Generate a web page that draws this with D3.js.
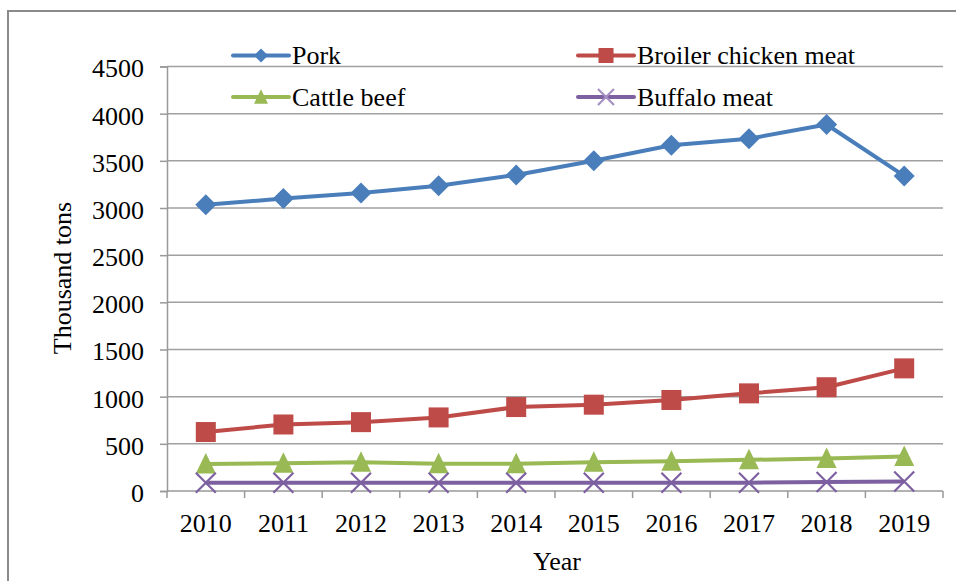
<!DOCTYPE html>
<html>
<head>
<meta charset="utf-8">
<script src="https://cdn.jsdelivr.net/npm/d3@7/dist/d3.min.js"></script>
<style>
  html, body { margin: 0; padding: 0; background: #fff; }
  svg { display: block; }
  text { font-family: "Liberation Serif", "Times New Roman", serif; fill: #000; }
</style>
</head>
<body>
<svg id="chart" width="956" height="581"></svg>
<script>
// Meat production by type, thousand tons
const years = ["2010", "2011", "2012", "2013", "2014", "2015", "2016", "2017", "2018", "2019"];
const pork = [3035, 3100, 3160, 3235, 3350, 3500, 3665, 3735, 3885, 3340];
const broiler = [625, 705, 730, 780, 890, 915, 965, 1035, 1100, 1300];
const cattle = [285, 295, 305, 290, 290, 305, 315, 330, 345, 365];
const buffalo = [88, 88, 88, 88, 88, 88, 88, 88, 95, 100];
const yTicks = [0, 500, 1000, 1500, 2000, 2500, 3000, 3500, 4000, 4500];

const series = [
  { name: "Pork", values: pork, color: "#4A7EBB", marker: "diamond" },
  { name: "Broiler chicken meat", values: broiler, color: "#BE4B48", marker: "square" },
  { name: "Cattle beef", values: cattle, color: "#98B954", marker: "triangle" },
  { name: "Buffalo meat", values: buffalo, color: "#7D60A0", marker: "cross" }
];

const svg = d3.select("#chart");
const plotLeft = 167, plotRight = 943, plotTop = 66.5, plotBottom = 491;

const x = d3.scaleBand().domain(years).range([plotLeft, plotRight]).padding(0);
const y = d3.scaleLinear().domain([0, 4500]).range([plotBottom, plotTop]);
const cx = d => x(d) + x.bandwidth() / 2;

// outer frame
svg.append("rect")
  .attr("x", 8).attr("y", 11).attr("width", 1000).attr("height", 700)
  .attr("fill", "none").attr("stroke", "#8a8a8a").attr("stroke-width", 2);

// horizontal gridlines
svg.append("g").selectAll("line").data(yTicks.filter(t => t > 0)).join("line")
  .attr("x1", plotLeft).attr("x2", plotRight)
  .attr("y1", d => y(d)).attr("y2", d => y(d))
  .attr("stroke", "#a0a0a0").attr("stroke-width", 1.5);

// y axis
const yAxis = d3.axisLeft(y).tickValues(yTicks).tickSize(7).tickPadding(16).tickFormat(d3.format("d"));
const gy = svg.append("g").attr("transform", `translate(${plotLeft},0)`).call(yAxis);
gy.select(".domain").attr("stroke", "#999").attr("stroke-width", 1.5);
gy.selectAll(".tick line").attr("stroke", "#999").attr("stroke-width", 1.5);
gy.selectAll(".tick text").attr("font-size", 26).attr("dy", "0.40em")
  .style("font-family", "'Liberation Serif', serif").attr("fill", "#000");

// x axis with ticks between categories
const gx = svg.append("g").attr("transform", `translate(0,${plotBottom})`);
gx.append("line").attr("x1", plotLeft).attr("x2", plotRight).attr("y1", 0).attr("y2", 0)
  .attr("stroke", "#999").attr("stroke-width", 1.5);
const boundaries = years.map(d => x(d)).concat([plotRight]);
gx.selectAll("line.tk").data(boundaries).join("line").attr("class", "tk")
  .attr("x1", d => d).attr("x2", d => d).attr("y1", 0).attr("y2", 7)
  .attr("stroke", "#999").attr("stroke-width", 1.5);
gx.selectAll("text").data(years).join("text")
  .attr("x", d => cx(d)).attr("y", 41)
  .attr("text-anchor", "middle").attr("font-size", 26).text(d => d);

// axis titles
svg.append("text").attr("x", 557).attr("y", 570).attr("text-anchor", "middle")
  .attr("font-size", 26).text("Year");
svg.append("text").attr("transform", "translate(71,278) rotate(-90)")
  .attr("text-anchor", "middle").attr("font-size", 26).text("Thousand tons");

// marker drawing
function drawMarker(g, type, color, s) {
  if (type === "diamond") {
    g.append("path").attr("d", `M0,${-s}L${s},0L0,${s}L${-s},0Z`).attr("fill", color);
  } else if (type === "square") {
    g.append("rect").attr("x", -s).attr("y", -s).attr("width", 2 * s).attr("height", 2 * s).attr("fill", color);
  } else if (type === "triangle") {
    g.append("path").attr("d", `M0,${-s * 1.1}L${s},${s * 0.95}L${-s},${s * 0.95}Z`).attr("fill", color);
  } else if (type === "cross") {
    g.append("path").attr("d", `M${-s},${-s}L${s},${s}M${s},${-s}L${-s},${s}`)
      .attr("stroke", color).attr("stroke-width", 2.2).attr("fill", "none");
  }
}

const line = d3.line().x((v, i) => cx(years[i])).y(v => y(v));
const markerSize = { diamond: 10.5, square: 10, triangle: 10, cross: 10 };

// draw series lines then markers
series.forEach(s => {
  const g = svg.append("g");
  g.append("path").datum(s.values).attr("d", line)
    .attr("fill", "none").attr("stroke", s.color).attr("stroke-width", 4)
    .attr("stroke-linejoin", "round");
  s.values.forEach((v, i) => {
    const m = g.append("g").attr("transform", `translate(${cx(years[i])},${y(v)})`);
    drawMarker(m, s.marker, s.color, markerSize[s.marker]);
  });
});

// legend
const legendPos = [
  { x: 233, y: 55.5 }, { x: 578, y: 55.5 },
  { x: 233, y: 97 }, { x: 578, y: 97 }
];
const legendMarker = { diamond: 7, square: 7.5, triangle: 7, cross: 8 };
series.forEach((s, i) => {
  const p = legendPos[i];
  const g = svg.append("g").attr("transform", `translate(${p.x},${p.y})`);
  g.append("line").attr("x1", 0).attr("x2", 56).attr("y1", 0).attr("y2", 0)
    .attr("stroke", s.color).attr("stroke-width", 4).attr("stroke-linecap", "round");
  const m = g.append("g").attr("transform", "translate(28,0)");
  drawMarker(m, s.marker, s.marker === "cross" ? "#a48fc2" : s.color, legendMarker[s.marker]);
  g.append("text").attr("x", 59).attr("y", 8.5).attr("font-size", 26).text(s.name);
});
</script>
</body>
</html>
